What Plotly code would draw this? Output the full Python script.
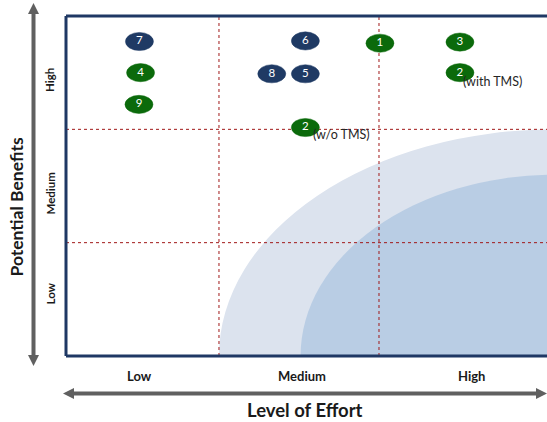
import plotly.graph_objects as go

# Initiatives plotted on effort (x, 0-3) vs benefit (y, 0-3)
labels = ["7", "4", "9", "6", "8", "5", "1", "3", "2", "2"]
effort = [0.503, 0.51, 0.50, 1.54, 1.33, 1.54, 2.006, 2.506, 2.506, 1.54]
benefit = [2.775, 2.50, 2.22, 2.78, 2.49, 2.49, 2.76, 2.77, 2.50, 2.016]
groups = ["navy", "green", "green", "navy", "navy", "navy", "green", "green", "green", "green"]
notes = ["", "", "", "", "", "", "", "", "(with TMS)", "(w/o TMS)"]

level_names = ["Low", "Medium", "High"]

NAVY = "#1F3A64"
GREEN = "#0B6A0B"
colors = {"navy": NAVY, "green": GREEN}

W, H = 547, 422
ML, MR, MT, MB = 66, 0, 16, 66
x_range = [0.044, 3.05]
y_range = [0.0, 3.0]
pw = W - ML - MR
ph = H - MT - MB


def px_to_paper_x(px):
    return (px - ML) / pw


def px_to_paper_y(py):
    return (H - MB - py) / ph


fig = go.Figure()

shapes = []

# Shaded target zones (lower right)
shapes.append(dict(type="circle", xref="x", yref="y", x0=1.0, x1=5.2, y0=-2.0, y1=2.0,
                   fillcolor="#DCE3EE", line=dict(width=0), layer="below"))
shapes.append(dict(type="circle", xref="x", yref="y", x0=1.51, x1=4.69, y0=-1.6, y1=1.6,
                   fillcolor="#B9CDE4", line=dict(width=0), layer="below"))

# Dotted grid separating the low / medium / high bands
for v in [1, 2]:
    shapes.append(dict(type="line", xref="x", yref="y", x0=v, x1=v, y0=0, y1=3, layer="below",
                       line=dict(color="#A01818", width=1, dash="dot")))
    shapes.append(dict(type="line", xref="x", yref="y", x0=x_range[0], x1=x_range[1], y0=v, y1=v,
                       layer="below", line=dict(color="#A01818", width=1, dash="dot")))

# Frame (left, top, bottom)
frame = dict(color="#1F3864", width=3)
shapes.append(dict(type="line", xref="paper", yref="paper", x0=0, x1=0, y0=0, y1=1, line=frame))
shapes.append(dict(type="line", xref="paper", yref="paper", x0=0, x1=1.01, y0=1, y1=1, line=frame))
shapes.append(dict(type="line", xref="paper", yref="paper", x0=0, x1=1.01, y0=0, y1=0, line=frame))

# Ellipse markers for each initiative (below the number labels)
rx, ry = 0.0875, 0.08
for xv, yv, g in zip(effort, benefit, groups):
    shapes.append(dict(type="circle", xref="x", yref="y", layer="below",
                       x0=xv - rx, x1=xv + rx, y0=yv - ry, y1=yv + ry,
                       fillcolor=colors[g], line=dict(color=colors[g], width=0.5)))

# Axis arrows
ARROW = "#606060"
vx = px_to_paper_x(33.5)
shapes.append(dict(type="line", xref="paper", yref="paper", x0=vx, x1=vx,
                   y0=px_to_paper_y(12), y1=px_to_paper_y(356), line=dict(color=ARROW, width=4)))
hw = 5.5 / pw
hh = 11 / ph
top = px_to_paper_y(3)
bot = px_to_paper_y(366)
shapes.append(dict(type="path", xref="paper", yref="paper",
                   path=f"M {vx} {top} L {vx - hw} {top - hh} L {vx + hw} {top - hh} Z",
                   fillcolor=ARROW, line=dict(width=0)))
shapes.append(dict(type="path", xref="paper", yref="paper",
                   path=f"M {vx} {bot} L {vx - hw} {bot + hh} L {vx + hw} {bot + hh} Z",
                   fillcolor=ARROW, line=dict(width=0)))

hy = px_to_paper_y(393.5)
shapes.append(dict(type="line", xref="paper", yref="paper", x0=px_to_paper_x(70), x1=px_to_paper_x(538),
                   y0=hy, y1=hy, line=dict(color=ARROW, width=4)))
aw = 11 / pw
ah = 5.5 / ph
lx = px_to_paper_x(63)
rxp = px_to_paper_x(547)
shapes.append(dict(type="path", xref="paper", yref="paper",
                   path=f"M {lx} {hy} L {lx + aw} {hy + ah} L {lx + aw} {hy - ah} Z",
                   fillcolor=ARROW, line=dict(width=0)))
shapes.append(dict(type="path", xref="paper", yref="paper",
                   path=f"M {rxp} {hy} L {rxp - aw} {hy + ah} L {rxp - aw} {hy - ah} Z",
                   fillcolor=ARROW, line=dict(width=0)))

# Numbers inside the ellipses
fig.add_trace(go.Scatter(
    x=effort, y=benefit, mode="text", text=labels,
    textfont=dict(family="Lato, Open Sans, sans-serif", size=11.5, color="white"),
    textposition="middle center", hoverinfo="skip", showlegend=False,
))

annotations = []
# Side notes next to the two "2" entries
note_shift = {"(with TMS)": (1, -9), "(w/o TMS)": (6, -7)}
for xv, yv, n in zip(effort, benefit, notes):
    if n:
        dx, dy = note_shift[n]
        annotations.append(dict(x=xv, y=yv, xref="x", yref="y", text=n, showarrow=False,
                                xanchor="left", yanchor="middle", xshift=dx, yshift=dy,
                                font=dict(family="Lato, Open Sans, sans-serif", size=12.5, color="#262626")))

# Band labels
x_lab_font = dict(family="Lato, Open Sans, sans-serif", size=13, color="#1a1a1a")
y_lab_font = dict(family="Lato, Open Sans, sans-serif", size=11.5, color="#1a1a1a")
x_lab_pos = [0.506, 1.517, 2.58]
y_lab_px = [294, 194, 80.5]
for i, name in enumerate(level_names):
    annotations.append(dict(x=x_lab_pos[i], y=px_to_paper_y(376), xref="x", yref="paper",
                            text=f"<b>{name}</b>", showarrow=False, font=x_lab_font,
                            xanchor="center", yanchor="middle"))
    annotations.append(dict(x=px_to_paper_x(49.5), y=px_to_paper_y(y_lab_px[i]), xref="paper", yref="paper",
                            text=f"<b>{name}</b>", showarrow=False, font=y_lab_font, textangle=-90,
                            xanchor="center", yanchor="middle"))

# Axis titles
annotations.append(dict(x=px_to_paper_x(304.5), y=px_to_paper_y(410), xref="paper", yref="paper",
                        text="<b>Level of Effort</b>", showarrow=False,
                        font=dict(family="Lato, Open Sans, sans-serif", size=18.5, color="#1a1a1a"),
                        xanchor="center", yanchor="middle"))
annotations.append(dict(x=px_to_paper_x(15.5), y=px_to_paper_y(207), xref="paper", yref="paper",
                        text="<b>Potential Benefits</b>", showarrow=False,
                        font=dict(family="Lato, Open Sans, sans-serif", size=17.5, color="#1a1a1a"),
                        textangle=-90, xanchor="center", yanchor="middle"))

fig.update_layout(
    width=W, height=H,
    margin=dict(l=ML, r=MR, t=MT, b=MB),
    paper_bgcolor="white", plot_bgcolor="white",
    xaxis=dict(range=x_range, showgrid=False, zeroline=False, showticklabels=False, fixedrange=True),
    yaxis=dict(range=y_range, showgrid=False, zeroline=False, showticklabels=False, fixedrange=True),
    shapes=shapes,
    annotations=annotations,
    showlegend=False,
)

fig.write_html("out.html")
